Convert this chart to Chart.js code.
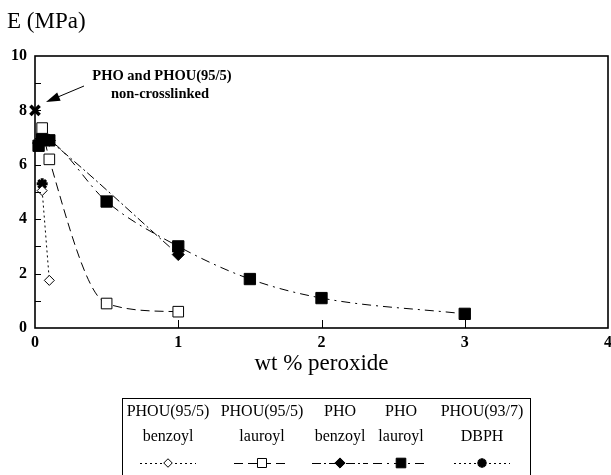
<!DOCTYPE html>
<html>
<head>
<meta charset="utf-8">
<script src="https://cdn.jsdelivr.net/npm/chart.js@4.4.1/dist/chart.umd.min.js"></script>
<style>
  html, body { margin: 0; padding: 0; background: #fff; }
  #wrap { width: 611px; height: 475px; }
</style>
</head>
<body>
<div id="wrap"><canvas id="modulusChart" width="611" height="475"></canvas></div>
<script>
// Young's modulus E (MPa) vs wt % peroxide
const phouBzX = [0.05, 0.1];           // PHOU(95/5) benzoyl
const phouBzE = [5.05, 1.75];
const phouLaX = [0.05, 0.1, 0.5, 1];   // PHOU(95/5) lauroyl
const phouLaE = [7.35, 6.2, 0.9, 0.6];
const phoBzX = [0.025, 0.05, 0.1, 1];  // PHO benzoyl
const phoBzE = [6.8, 7.1, 6.9, 2.7];
const phoLaX = [0.025, 0.05, 0.1, 0.5, 1, 1.5, 2, 3]; // PHO lauroyl
const phoLaE = [6.7, 6.95, 6.9, 4.65, 3.0, 1.8, 1.1, 0.52];
const dbphX = [0.05];                  // PHOU(93/7) DBPH
const dbphE = [5.3];
const plainX = [0];                    // PHO and PHOU(95/5) non-crosslinked
const plainE = [8];

const xTicks = [0, 1, 2, 3, 4];
const yTicks = [0, 2, 4, 6, 8, 10];
const legendTop = ['PHOU(95/5)', 'PHOU(95/5)', 'PHO', 'PHO', 'PHOU(93/7)'];
const legendBottom = ['benzoyl', 'lauroyl', 'benzoyl', 'lauroyl', 'DBPH'];

const serif = "'Liberation Serif', 'Times New Roman', serif";

function pts(xs, ys) {
    return xs.map((x, i) => ({ x: x, y: ys[i] }));
}

function series(label, xs, ys, style) {
    return Object.assign({
        label: label,
        data: pts(xs, ys),
        showLine: true,
        borderColor: '#000',
        backgroundColor: '#000',
        pointBorderColor: '#000',
        borderWidth: 1,
        pointBorderWidth: 1,
        cubicInterpolationMode: 'monotone',
        clip: false
    }, style);
}

const datasets = [
    series('PHOU(95/5) benzoyl', phouBzX, phouBzE, {
        borderDash: [2, 3], pointStyle: 'rectRot', pointRadius: 5,
        pointBackgroundColor: '#fff'
    }),
    series('PHOU(95/5) lauroyl', phouLaX, phouLaE, {
        borderDash: [9, 5], pointStyle: 'rect', pointRadius: 7.5,
        pointBackgroundColor: '#fff'
    }),
    series('PHO benzoyl', phoBzX, phoBzE, {
        borderDash: [9, 3, 2, 3], pointStyle: 'rectRot', pointRadius: 6,
        pointBackgroundColor: '#000'
    }),
    series('PHO lauroyl', phoLaX, phoLaE, {
        borderDash: [9, 5, 2, 5], pointStyle: 'rect', pointRadius: 8,
        pointBackgroundColor: '#000'
    }),
    series('PHOU(93/7) DBPH', dbphX, dbphE, {
        borderDash: [2, 3], pointStyle: 'star', pointRadius: 5.5,
        pointBorderWidth: 3, pointBackgroundColor: '#000'
    }),
    series('non-crosslinked', plainX, plainE, {
        showLine: false, pointStyle: 'crossRot', pointRadius: 6.5,
        pointBorderWidth: 3.5
    })
];

// frame, inward ticks, annotation, legend box
const decorations = {
    id: 'decorations',
    afterDraw(chart) {
        const ctx = chart.ctx;
        const a = chart.chartArea;
        const xs = chart.scales.x, ys = chart.scales.y;
        ctx.save();
        ctx.strokeStyle = '#000';
        ctx.fillStyle = '#000';
        ctx.setLineDash([]);

        ctx.lineWidth = 1.6;
        ctx.strokeRect(a.left, a.top, a.right - a.left, a.bottom - a.top);

        ctx.lineWidth = 1;
        for (let v = 1; v < 10; v++) {
            const y = Math.round(ys.getPixelForValue(v)) + 0.5;
            ctx.beginPath();
            ctx.moveTo(a.left, y);
            ctx.lineTo(a.left + 6, y);
            ctx.stroke();
        }
        for (let v = 1; v < 4; v++) {
            const x = Math.round(xs.getPixelForValue(v)) + 0.5;
            ctx.beginPath();
            ctx.moveTo(x, a.bottom);
            ctx.lineTo(x, a.bottom - 8);
            ctx.stroke();
        }

        // axis name on top
        ctx.font = '23px ' + serif;
        ctx.textAlign = 'left';
        ctx.textBaseline = 'middle';
        ctx.fillText('E (MPa)', 7, 22);

        // annotation with arrow
        ctx.font = 'bold 14.5px ' + serif;
        ctx.textAlign = 'center';
        ctx.fillText('PHO and PHOU(95/5)', 162, 76);
        ctx.fillText('non-crosslinked', 160, 94);
        const tipX = 46, tipY = 102, fromX = 84, fromY = 86;
        const ang = Math.atan2(tipY - fromY, tipX - fromX);
        ctx.beginPath();
        ctx.moveTo(fromX, fromY);
        ctx.lineTo(tipX - 10 * Math.cos(ang), tipY - 10 * Math.sin(ang));
        ctx.stroke();
        ctx.beginPath();
        ctx.moveTo(tipX, tipY);
        ctx.lineTo(tipX - 14 * Math.cos(ang) + 4.5 * Math.sin(ang), tipY - 14 * Math.sin(ang) - 4.5 * Math.cos(ang));
        ctx.lineTo(tipX - 14 * Math.cos(ang) - 4.5 * Math.sin(ang), tipY - 14 * Math.sin(ang) + 4.5 * Math.cos(ang));
        ctx.closePath();
        ctx.fill();

        // legend table
        ctx.lineWidth = 1;
        ctx.strokeRect(122.5, 398.5, 408, 100);
        const cols = [168, 262, 340, 401, 482];
        ctx.font = '16px ' + serif;
        ctx.textAlign = 'center';
        cols.forEach((cx, i) => {
            ctx.fillStyle = '#000';
            ctx.fillText(legendTop[i], cx, 412);
            ctx.fillText(legendBottom[i], cx, 437);
            const ds = chart.data.datasets[i];
            ctx.lineWidth = 1;
            ctx.setLineDash(ds.borderDash);
            ctx.beginPath();
            ctx.moveTo(cx - 28, 463.5);
            ctx.lineTo(cx + 28, 463.5);
            ctx.stroke();
            ctx.setLineDash([]);
            ctx.fillStyle = ds.pointBackgroundColor;
            ctx.lineWidth = ds.pointBorderWidth;
            Chart.helpers.drawPoint(ctx, {
                pointStyle: ds.pointStyle,
                radius: ds.pointRadius * 0.85,
                borderWidth: ds.pointBorderWidth,
                rotation: 0
            }, cx, 463);
        });
        ctx.restore();
    }
};

const tickFont = { family: serif, size: 16, weight: 'bold' };
const noPadding = () => ({ left: 0, top: 0, right: 0, bottom: 0 });

new Chart(document.getElementById('modulusChart'), {
    type: 'scatter',
    data: { datasets: datasets },
    plugins: [decorations],
    options: {
        responsive: false,
        devicePixelRatio: 1,
        animation: false,
        layout: { autoPadding: false, padding: { top: 56, right: 3, bottom: 97, left: 0 } },
        plugins: {
            legend: { display: false },
            tooltip: { enabled: false }
        },
        scales: {
            x: {
                type: 'linear',
                min: xTicks[0],
                max: xTicks[xTicks.length - 1],
                afterBuildTicks: s => { s.ticks = xTicks.map(v => ({ value: v })); },
                afterFit: s => {
                    s.height = 50;
                    s.paddingLeft = 0;
                    s.paddingRight = 0;
                    s.getPadding = noPadding;
                },
                grid: { display: false, drawTicks: false },
                border: { display: false },
                ticks: { font: tickFont, color: '#000', padding: 5 },
                title: {
                    display: true,
                    text: 'wt % peroxide',
                    color: '#000',
                    font: { family: serif, size: 23 },
                    padding: 0
                }
            },
            y: {
                type: 'linear',
                min: yTicks[0],
                max: yTicks[yTicks.length - 1],
                afterBuildTicks: s => { s.ticks = yTicks.map(v => ({ value: v })); },
                afterFit: s => {
                    s.width = 35;
                    s.paddingTop = 0;
                    s.paddingBottom = 0;
                    s.getPadding = noPadding;
                },
                grid: { display: false, drawTicks: false },
                border: { display: false },
                ticks: { font: tickFont, color: '#000', padding: 8 }
            }
        }
    }
});
</script>
</body>
</html>
